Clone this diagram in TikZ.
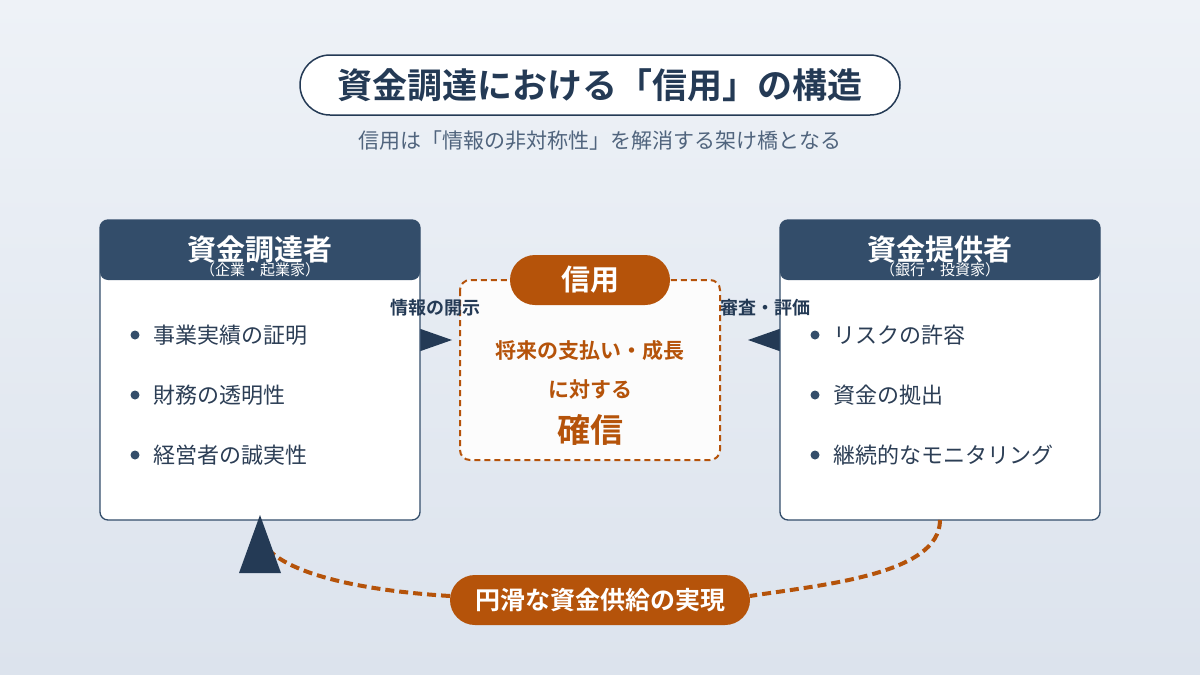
\documentclass[tikz,border=0pt]{standalone}
\usepackage{fontspec}
\setmainfont{Noto Sans CJK JP}
\newfontfamily\jpb{Noto Sans CJK JP Bold}
\usetikzlibrary{arrows.meta}
\definecolor{navy}{HTML}{334D6A}
\definecolor{dnavy}{HTML}{243A55}
\definecolor{org}{HTML}{B5530A}
\definecolor{txt}{HTML}{2C3E55}
\definecolor{subc}{HTML}{50647D}
\definecolor{bgA}{HTML}{EEF2F7}
\definecolor{bgB}{HTML}{DCE3ED}
\definecolor{cfill}{HTML}{FCFCFC}
\begin{document}
\begin{tikzpicture}[x=1pt,y=-1pt,
  panel/.style={draw=navy,line width=1.3pt,fill=white,rounded corners=8pt},
  item/.style={anchor=west,font=\fontsize{22}{26}\selectfont,text=txt},
  dot/.style={circle,fill=navy,inner sep=0pt,minimum size=9pt},
  lab/.style={font=\jpb\fontsize{18}{20}\selectfont,text=dnavy}]
\shade[top color=bgA,bottom color=bgB] (0,0) rectangle (1200,675);
\useasboundingbox (0,0) rectangle (1200,675);
% title
\node[draw=dnavy,line width=1.5pt,fill=white,rounded corners=30pt,minimum width=600pt,minimum height=60pt,font=\jpb\fontsize{35}{40}\selectfont,text=dnavy] (title) at (600,85) {資金調達における「信用」の構造};
\node[font=\fontsize{21}{24}\selectfont,text=subc] (sub) at (600,141) {信用は「情報の非対称性」を解消する架け橋となる};
% arrowheads
\fill[dnavy] (415,327) -- (452,340) -- (415,353) -- cycle;
\fill[dnavy] (785,327) -- (748,340) -- (785,353) -- cycle;
% left panel
\draw[panel] (100,220) rectangle (420,520);
\fill[navy,rounded corners=8pt] (100,280) -- (100,220) -- (420,220) -- (420,280) -- cycle;
\node[font=\jpb\fontsize{29}{32}\selectfont,text=white] (lt) at (260,249) {資金調達者};
\node[font=\fontsize{15}{17}\selectfont,text=white] (ls) at (260,270) {（企業・起業家）};
\foreach \y/\t [count=\i] in {335/事業実績の証明,395/財務の透明性,455/経営者の誠実性}{
  \node[dot] (ld\i) at (135,\y) {};
  \node[item] (li\i) at (150,\y) {\t};}
% right panel
\draw[panel] (780,220) rectangle (1100,520);
\fill[navy,rounded corners=8pt] (780,280) -- (780,220) -- (1100,220) -- (1100,280) -- cycle;
\node[font=\jpb\fontsize{29}{32}\selectfont,text=white] (rt) at (940,249) {資金提供者};
\node[font=\fontsize{15}{17}\selectfont,text=white] (rs) at (940,270) {（銀行・投資家）};
\foreach \y/\t [count=\i] in {335/リスクの許容,395/資金の拠出,455/継続的なモニタリング}{
  \node[dot] (rd\i) at (815,\y) {};
  \node[item] (ri\i) at (830,\y) {\t};}
% center
\draw[org,line width=2pt,dash pattern=on 6pt off 4pt,fill=cfill,rounded corners=10pt] (460,280) rectangle (720,460);
\node[fill=org,rounded corners=25pt,minimum width=160pt,minimum height=50pt,font=\jpb\fontsize{29}{32}\selectfont,text=white] (cred) at (590,280) {信用};
\node[font=\jpb\fontsize{21}{24}\selectfont,text=org] (c1) at (590,351) {将来の支払い・成長};
\node[font=\jpb\fontsize{21}{24}\selectfont,text=org] (c2) at (590,390) {に対する};
\node[font=\jpb\fontsize{33}{36}\selectfont,text=org] (c3) at (590,430) {確信};
% labels
\node[lab] (l1) at (435,308) {情報の開示};
\node[lab] (l2) at (765,308) {審査・評価};
% bottom loop
\coordinate (rb) at (940,520);
\coordinate (lb) at (262,540);
\draw[org,line width=4pt,dash pattern=on 9pt off 5pt] (rb) .. controls (940,575) and (820,585) .. (750,596);
\draw[org,line width=4pt,dash pattern=on 9pt off 5pt] (450,596) .. controls (350,590) and (275,570) .. (lb);
\node[fill=org,rounded corners=25pt,minimum width=300pt,minimum height=50pt,font=\jpb\fontsize{25}{28}\selectfont,text=white] (loop) at (600,600) {円滑な資金供給の実現};
\fill[dnavy] (260,515) -- (281,573) -- (239,573) -- cycle;
\end{tikzpicture}
\end{document}
